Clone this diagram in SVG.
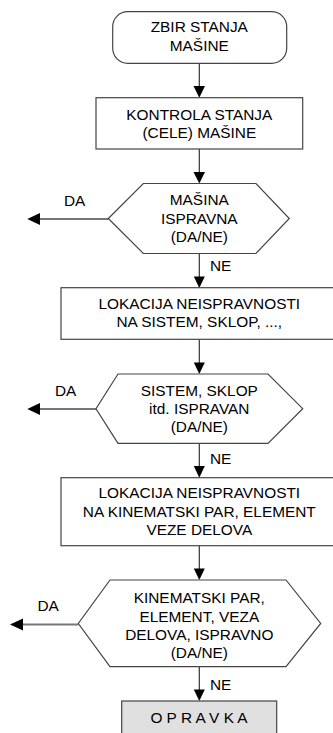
<svg xmlns="http://www.w3.org/2000/svg" width="333" height="733" viewBox="0 0 333 733">
<style>
.s{fill:#fff;stroke:#444;stroke-width:1.2}
.g{fill:#e0e0e0;stroke:#444;stroke-width:1.2}
text{font-family:"Liberation Sans",Arial,sans-serif;font-size:15.4px;fill:#000}
.c{text-anchor:middle}
.ln{stroke:#333;stroke-width:1.2;fill:none}
.da{stroke:#777;stroke-width:2;fill:none}
.ah{fill:#000}
</style>
<rect width="333" height="733" fill="#fff"/>
<g id="connectors">
<line class="ln" x1="199.3" y1="63.3" x2="199.3" y2="87"/><polygon class="ah" points="193.5,86 205,86 199.3,97.7"/>
<line class="ln" x1="199.3" y1="149" x2="199.3" y2="173"/><polygon class="ah" points="193.5,172 205,172 199.3,183.5"/>
<line class="ln" x1="199.3" y1="253.5" x2="199.3" y2="277"/><polygon class="ah" points="193.8,276.5 204.8,276.5 199.3,288"/>
<text x="210" y="270.5">NE</text>
<line class="da" x1="108.3" y1="219" x2="39" y2="219"/><polygon class="ah" points="40,213 40,225 27.3,219"/>
<text x="64" y="206">DA</text>
<line class="ln" x1="199.3" y1="339.3" x2="199.3" y2="363"/><polygon class="ah" points="193.8,362.5 204.8,362.5 199.3,374"/>
<line class="ln" x1="199.3" y1="443.3" x2="199.3" y2="466"/><polygon class="ah" points="193.8,466 204.8,466 199.3,477.7"/>
<text x="210" y="464.3">NE</text>
<line class="da" x1="96" y1="409" x2="39" y2="409"/><polygon class="ah" points="40,403 40,415 27.3,409"/>
<text x="55" y="395.7">DA</text>
<line class="ln" x1="199.3" y1="545.7" x2="199.3" y2="569"/><polygon class="ah" points="193.8,568.5 204.8,568.5 199.3,580"/>
<line class="da" x1="78.3" y1="624.5" x2="22" y2="624.5"/><polygon class="ah" points="23,618.5 23,630.5 10,624.5"/>
<text x="37.5" y="610.7">DA</text>
<line class="ln" x1="199.3" y1="666.7" x2="199.3" y2="690"/><polygon class="ah" points="193.8,689.5 204.8,689.5 199.3,701"/>
<text x="210" y="690">NE</text>
</g>
<g id="start">
<rect class="s" x="112.7" y="11.7" width="174" height="51.6" rx="15" ry="15"/>
<text class="c" x="199.3" y="32.3">ZBIR STANJA</text>
<text class="c" x="199.3" y="50.7">MAŠINE</text>
</g>
<g id="kontrola">
<rect class="s" x="96" y="97.7" width="206.7" height="51.3"/>
<text class="c" x="199.3" y="120">KONTROLA STANJA</text>
<text class="c" x="199.3" y="138.3">(CELE) MAŠINE</text>
</g>
<g id="odluka1">
<polygon class="s" points="143.3,183.5 256,183.5 289.3,218.5 256,253.5 143.3,253.5 108.3,218.5"/>
<text class="c" x="199.3" y="205">MAŠINA</text>
<text class="c" x="199.3" y="224">ISPRAVNA</text>
<text class="c" x="199.3" y="242">(DA/NE)</text>
</g>
<g id="lokacija1">
<rect class="s" x="61" y="287.7" width="290" height="51.6"/>
<text class="c" x="199.3" y="309">LOKACIJA NEISPRAVNOSTI</text>
<text class="c" x="199.3" y="327.3">NA SISTEM, SKLOP, ...,</text>
</g>
<g id="odluka2">
<polygon class="s" points="118,374 268,374 302.7,408.7 268,443.3 118,443.3 96,408.7"/>
<text class="c" x="199.3" y="395.7">SISTEM, SKLOP</text>
<text class="c" x="199.3" y="413.5">itd. ISPRAVAN</text>
<text class="c" x="199.3" y="431.7">(DA/NE)</text>
</g>
<g id="lokacija2">
<rect class="s" x="61" y="477.7" width="290" height="68"/>
<text class="c" x="199.3" y="498.3">LOKACIJA NEISPRAVNOSTI</text>
<text class="c" x="199.3" y="516.7">NA KINEMATSKI PAR, ELEMENT</text>
<text class="c" x="199.3" y="535">VEZE DELOVA</text>
</g>
<g id="odluka3">
<polygon class="s" points="110,580 286,580 320.7,623.5 286,666.7 110,666.7 78.3,623.5"/>
<text class="c" x="199.3" y="603.3">KINEMATSKI PAR,</text>
<text class="c" x="199.3" y="621.7">ELEMENT, VEZA</text>
<text class="c" x="199.3" y="640">DELOVA, ISPRAVNO</text>
<text class="c" x="199.3" y="657.7">(DA/NE)</text>
</g>
<g id="opravka">
<rect class="g" x="121.7" y="701" width="155" height="40"/>
<text class="c" x="199" y="723.3">O P R A V K A</text>
</g>
</svg>
